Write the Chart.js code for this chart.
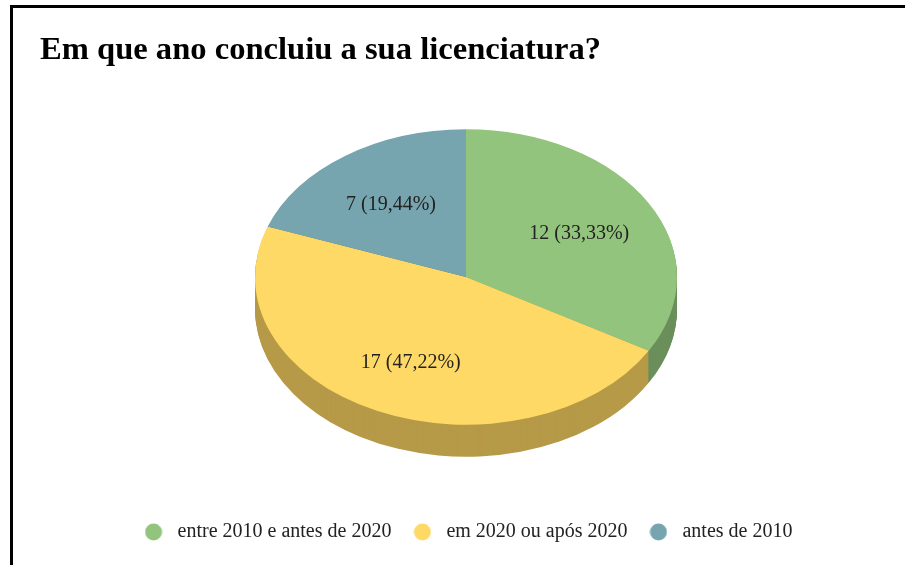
<!DOCTYPE html>
<html>
<head>
<meta charset="utf-8">
<script src="https://cdn.jsdelivr.net/npm/chart.js@4"></script>
<style>
  html, body { margin: 0; padding: 0; background: #fff; }
  #wrap { position: relative; width: 905px; height: 565px; overflow: hidden; }
  #frame { position: absolute; left: 10px; top: 5px; width: 920px; height: 600px;
           border-left: 3px solid #000; border-top: 3px solid #000; }
  #title { position: absolute; left: 40px; top: 30px; margin: 0;
           font: bold 32.6px/36px "Liberation Serif", serif; color: #000; white-space: nowrap; }
  #chart { position: absolute; left: 0; top: 0; }
</style>
</head>
<body>
<div id="wrap">
  <div id="frame"></div>
  <canvas id="chart" width="905" height="565"></canvas>
  <h1 id="title">Em que ano concluiu a sua licenciatura?</h1>
</div>
<script>
// data
const categories = ['entre 2010 e antes de 2020', 'em 2020 ou após 2020', 'antes de 2010'];
const counts = [12, 17, 7];

// colours
const faceColors = ['#93c47d', '#ffd966', '#76a5af'];
const sideColors = ['#6b8f5b', '#b69a48', '#56797f'];

const tilt = 0.70;   // vertical squash of the pie
const depth = 32;    // thickness of the pie in px
const labelFont = '20px "Liberation Serif", serif';

const total = counts.reduce((a, b) => a + b, 0);

// small round legend marker
function dot(color) {
  const c = document.createElement('canvas');
  c.width = 18; c.height = 18;
  const g = c.getContext('2d');
  g.fillStyle = color;
  g.beginPath();
  g.arc(9, 9, 8.5, 0, Math.PI * 2);
  g.fill();
  return c;
}

// fake 3D: squash the pie and paint its side wall below it
const pie3d = {
  id: 'pie3d',
  beforeDatasetsDraw(chart) {
    const ctx = chart.ctx;
    const arcs = chart.getDatasetMeta(0).data;
    const cx = arcs[0].x, cy = arcs[0].y;
    for (let d = depth; d > 0; d--) {
      ctx.save();
      ctx.translate(cx, cy + d);
      ctx.scale(1, tilt);
      ctx.translate(-cx, -cy);
      arcs.forEach((arc, i) => {
        ctx.fillStyle = sideColors[i];
        ctx.beginPath();
        ctx.moveTo(cx, cy);
        ctx.arc(cx, cy, arc.outerRadius, arc.startAngle, arc.endAngle);
        ctx.closePath();
        ctx.fill();
      });
      ctx.restore();
    }
    ctx.save();
    ctx.translate(cx, cy);
    ctx.scale(1, tilt);
    ctx.translate(-cx, -cy);
  },
  afterDatasetsDraw(chart) {
    const ctx = chart.ctx;
    ctx.restore();
    const arcs = chart.getDatasetMeta(0).data;
    ctx.save();
    ctx.font = labelFont;
    ctx.fillStyle = '#222';
    ctx.textAlign = 'center';
    ctx.textBaseline = 'middle';
    arcs.forEach((arc, i) => {
      const mid = (arc.startAngle + arc.endAngle) / 2;
      const r = arc.outerRadius * 0.62;
      const x = arc.x + Math.cos(mid) * r;
      const y = arc.y + Math.sin(mid) * r * tilt + 3;
      const pct = (counts[i] / total * 100).toFixed(2).replace('.', ',');
      ctx.fillText(counts[i] + ' (' + pct + '%)', x, y);
    });
    ctx.restore();
  }
};

new Chart(document.getElementById('chart'), {
  type: 'pie',
  data: {
    labels: categories,
    datasets: [{
      data: counts,
      backgroundColor: faceColors,
      borderWidth: 0,
      radius: 211,
      clip: false
    }]
  },
  options: {
    responsive: false,
    animation: false,
    events: [],
    layout: { padding: { left: 27, right: 0, top: 49, bottom: 13 } },
    plugins: {
      title: { display: false },
      tooltip: { enabled: false },
      legend: {
        position: 'bottom',
        labels: {
          font: { family: '"Liberation Serif", serif', size: 20 },
          color: '#222',
          usePointStyle: true,
          pointStyleWidth: 28,
          padding: 17,
          generateLabels(chart) {
            const items = Chart.overrides.pie.plugins.legend.labels.generateLabels(chart);
            items.forEach((it, i) => { it.pointStyle = dot(faceColors[i]); });
            return items;
          }
        }
      }
    }
  },
  plugins: [pie3d]
});
</script>
</body>
</html>
